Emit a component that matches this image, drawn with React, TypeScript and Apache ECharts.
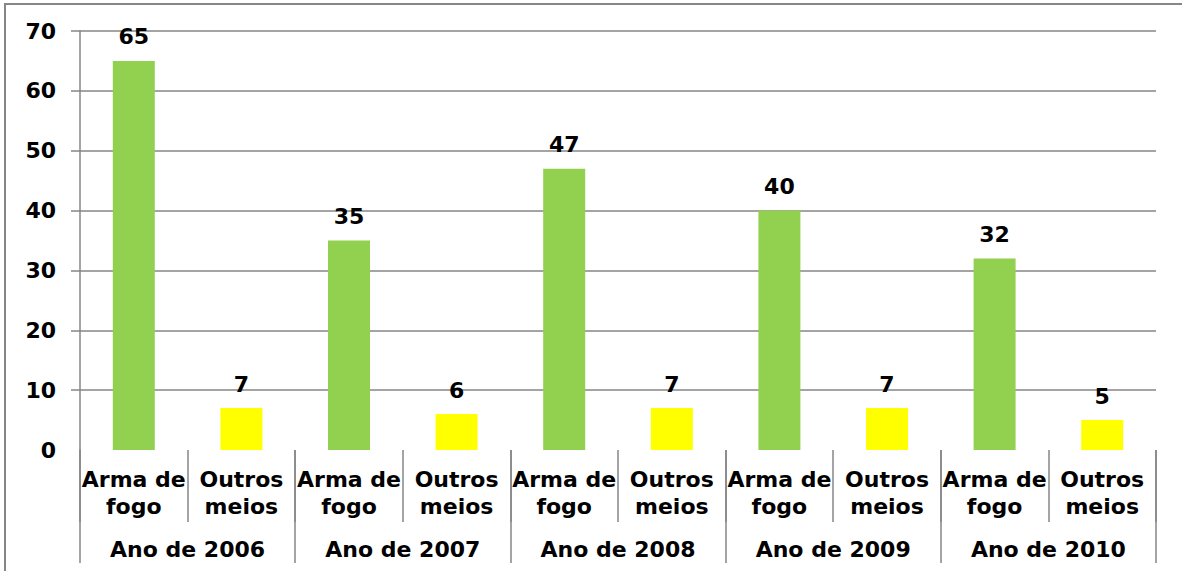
import React, { useEffect, useRef } from "react";
import * as echarts from "echarts";

const categories = [
  "Arma de\nfogo", "Outros\nmeios",
  "Arma de\nfogo", "Outros\nmeios",
  "Arma de\nfogo", "Outros\nmeios",
  "Arma de\nfogo", "Outros\nmeios",
  "Arma de\nfogo", "Outros\nmeios",
];
const years = ["Ano de 2006", "Ano de 2007", "Ano de 2008", "Ano de 2009", "Ano de 2010"];
const values = [65, 7, 35, 6, 47, 7, 40, 7, 32, 5];
const kinds = ["arma", "outros", "arma", "outros", "arma", "outros", "arma", "outros", "arma", "outros"];
const colorByKind: Record<string, string> = { arma: "#92D050", outros: "#FFFF00" };

const FONT = "DejaVu Sans";
const GREY = "#868686";

export default function App() {
  const ref = useRef<HTMLDivElement>(null);
  useEffect(() => {
    if (!ref.current) return;
    const chart = echarts.init(ref.current, undefined, { renderer: "svg" });
    chart.setOption({
      animation: false,
      backgroundColor: "#ffffff",
      grid: { left: 80, right: 26, top: 31, bottom: 121, containLabel: false },
      graphic: [
        {
          type: "rect",
          shape: { x: 5, y: 4, width: 1200, height: 575 },
          style: { fill: "none", stroke: GREY, lineWidth: 2 },
          silent: true,
        },
      ],
      xAxis: [
        {
          type: "category",
          data: categories,
          position: "bottom",
          axisLine: { show: false },
          axisTick: { show: true, length: 72, interval: 0, lineStyle: { color: GREY, width: 1.5 } },
          axisLabel: {
            interval: 0,
            margin: 16,
            fontFamily: FONT,
            fontWeight: "bold",
            fontSize: 22,
            lineHeight: 27,
            color: "#000",
          },
        },
        {
          type: "category",
          data: years,
          position: "bottom",
          axisLine: { show: false },
          axisTick: { show: true, length: 113, interval: 0, lineStyle: { color: GREY, width: 1.5 } },
          axisLabel: {
            interval: 0,
            margin: 88,
            fontFamily: FONT,
            fontWeight: "bold",
            fontSize: 22,
            color: "#000",
          },
        },
      ],
      yAxis: {
        type: "value",
        min: 0,
        max: 70,
        interval: 10,
        axisLine: { show: true, lineStyle: { color: GREY, width: 1.5 } },
        axisTick: { show: false },
        axisLabel: {
          margin: 24,
          fontFamily: FONT,
          fontWeight: "bold",
          fontSize: 22,
          color: "#000",
        },
        splitLine: {
          show: true,
          lineStyle: {
            color: ["rgba(0,0,0,0)", GREY, GREY, GREY, GREY, GREY, GREY, GREY],
            width: 1.5,
          },
        },
      },
      series: [
        {
          type: "bar",
          xAxisIndex: 0,
          barWidth: 42,
          data: values.map((v, i) => ({ value: v, itemStyle: { color: colorByKind[kinds[i]] } })),
          label: {
            show: true,
            position: "top",
            distance: 13,
            fontFamily: FONT,
            fontWeight: "bold",
            fontSize: 22,
            color: "#000",
          },
        },
        {
          type: "line",
          xAxisIndex: 0,
          data: [],
          silent: true,
          markLine: {
            silent: true,
            symbol: "none",
            label: { show: false },
            lineStyle: { color: GREY, width: 1.5, type: "solid" },
            data: [10, 20, 30, 40, 50, 60, 70].map((v) => [
              { x: 71, yAxis: v },
              { x: 80, yAxis: v },
            ]),
          },
        },
      ],
    });
    return () => chart.dispose();
  }, []);
  return (
    <div
      ref={ref}
      style={{ position: "absolute", left: 0, top: 0, width: 1182, height: 571 }}
    />
  );
}
